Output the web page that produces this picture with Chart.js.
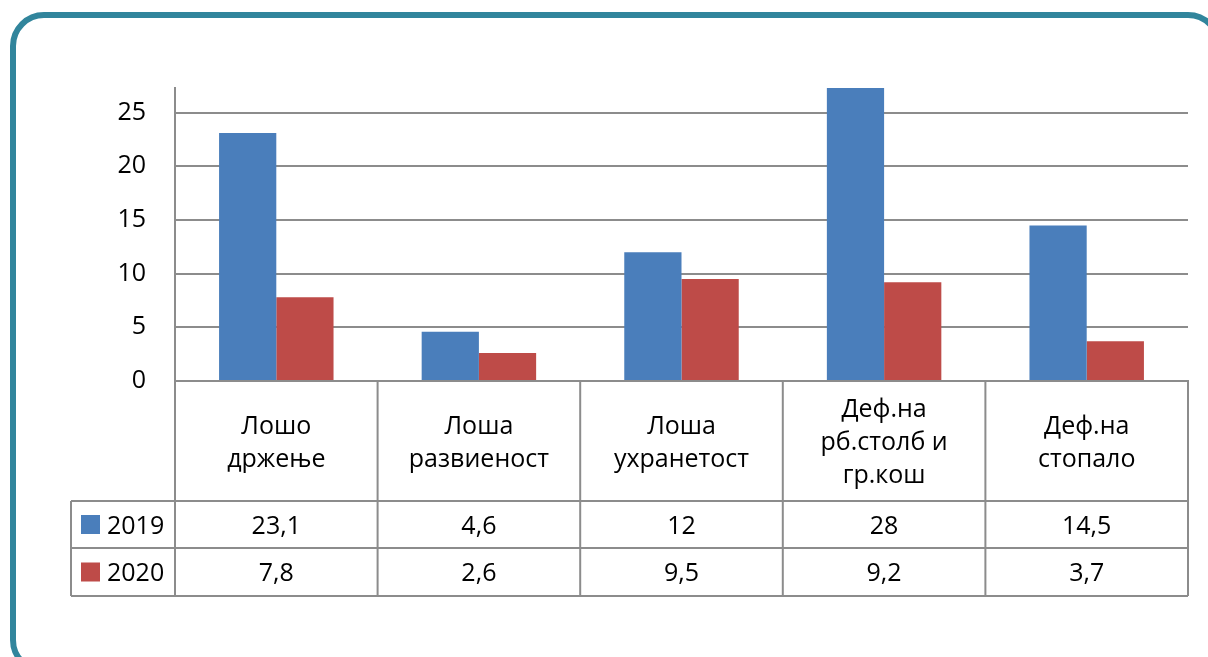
<!DOCTYPE html>
<html>
<head>
<meta charset="utf-8">
<script src="https://cdn.jsdelivr.net/npm/chart.js@4.4.1/dist/chart.umd.min.js"></script>
<style>
  body { margin: 0; overflow: hidden; background: #fff; }
  #frame {
    position: absolute; left: 10px; top: 12px; width: 1200px; height: 650px;
    border: 6px solid #31859c; border-radius: 34px;
  }
  #chart { position: absolute; left: 0; top: 0; }
</style>
</head>
<body>
<div id="frame"></div>
<canvas id="chart" width="1208" height="657"></canvas>
<script>
const categories = [['Лошо', 'држење'], ['Лоша', 'развиеност'], ['Лоша', 'ухранетост'], ['Деф.на', 'рб.столб и', 'гр.кош'], ['Деф.на', 'стопало']];
const years = ['2019', '2020'];
const values2019 = [23.1, 4.6, 12, 28, 14.5];
const values2020 = [7.8, 2.6, 9.5, 9.2, 3.7];
const yTicks = [0, 5, 10, 15, 20, 25];
const colors = ['#4a7ebb', '#be4b48'];

const gridColor = '#8c8c8c';
const font = '25px "Open Sans"';

// format numbers the way the table shows them (decimal comma)
function fmt(v) {
    return String(v).replace('.', ',');
}

// draws the data table under the bars
const tablePlugin = {
    id: 'dataTable',
    afterDraw(chart) {
        const ctx = chart.ctx;
        const a = chart.chartArea;
        const step = (a.right - a.left) / categories.length;
        const headTop = a.bottom;
        const row1 = headTop + 120;
        const row2 = row1 + 47;
        const bottom = row2 + 48;
        const legendLeft = a.left - 104;

        ctx.save();
        ctx.strokeStyle = gridColor;
        ctx.lineWidth = 2;
        ctx.beginPath();
        [row1, row2, bottom].forEach(y => {
            ctx.moveTo(legendLeft, y);
            ctx.lineTo(a.right, y);
        });
        ctx.moveTo(legendLeft, row1);
        ctx.lineTo(legendLeft, bottom);
        for (let i = 0; i <= categories.length; i++) {
            const x = a.left + i * step;
            ctx.moveTo(x, headTop);
            ctx.lineTo(x, bottom);
        }
        ctx.stroke();

        ctx.fillStyle = '#000';
        ctx.font = font;
        ctx.textAlign = 'center';
        ctx.textBaseline = 'middle';
        const lineH = 33;
        categories.forEach((lines, i) => {
            const cx = a.left + (i + 0.5) * step;
            const cy = (headTop + row1) / 2 + 2;
            lines.forEach((t, j) => {
                ctx.fillText(t, cx, cy + (j - (lines.length - 1) / 2) * lineH);
            });
            ctx.fillText(fmt(values2019[i]), cx, (row1 + row2) / 2 + 2);
            ctx.fillText(fmt(values2020[i]), cx, (row2 + bottom) / 2 + 2);
        });

        // legend keys
        ctx.textAlign = 'left';
        [[row1, row2], [row2, bottom]].forEach((r, k) => {
            const cy = (r[0] + r[1]) / 2;
            ctx.fillStyle = colors[k];
            ctx.fillRect(legendLeft + 10, cy - 9.5, 19, 19);
            ctx.fillStyle = '#000';
            ctx.fillText(years[k], legendLeft + 36, cy + 2);
        });
        ctx.restore();
    }
};

new Chart(document.getElementById('chart'), {
    type: 'bar',
    data: {
        labels: categories.map(c => c.join(' ')),
        datasets: [{
            label: years[0],
            data: values2019,
            backgroundColor: colors[0]
        }, {
            label: years[1],
            data: values2020,
            backgroundColor: colors[1]
        }]
    },
    options: {
        responsive: false,
        animation: false,
        categoryPercentage: 0.565,
        barPercentage: 1,
        layout: { padding: { left: 0, top: 88, right: 20, bottom: 0 } },
        plugins: {
            legend: { display: false },
            tooltip: { enabled: false }
        },
        scales: {
            x: {
                grid: { display: false },
                ticks: { display: false },
                border: { color: gridColor, width: 2 },
                afterFit(scale) { scale.height = 276; }
            },
            y: {
                min: 0,
                max: 27.3,
                afterBuildTicks(scale) {
                    scale.ticks = yTicks.map(v => ({ value: v }));
                },
                grid: { color: gridColor, lineWidth: 2, drawTicks: false },
                border: { color: gridColor, width: 2 },
                ticks: {
                    color: '#000',
                    font: { family: 'Open Sans', size: 25 },
                    padding: 29
                },
                afterFit(scale) { scale.width = 175; }
            }
        }
    },
    plugins: [tablePlugin]
});
</script>
</body>
</html>
